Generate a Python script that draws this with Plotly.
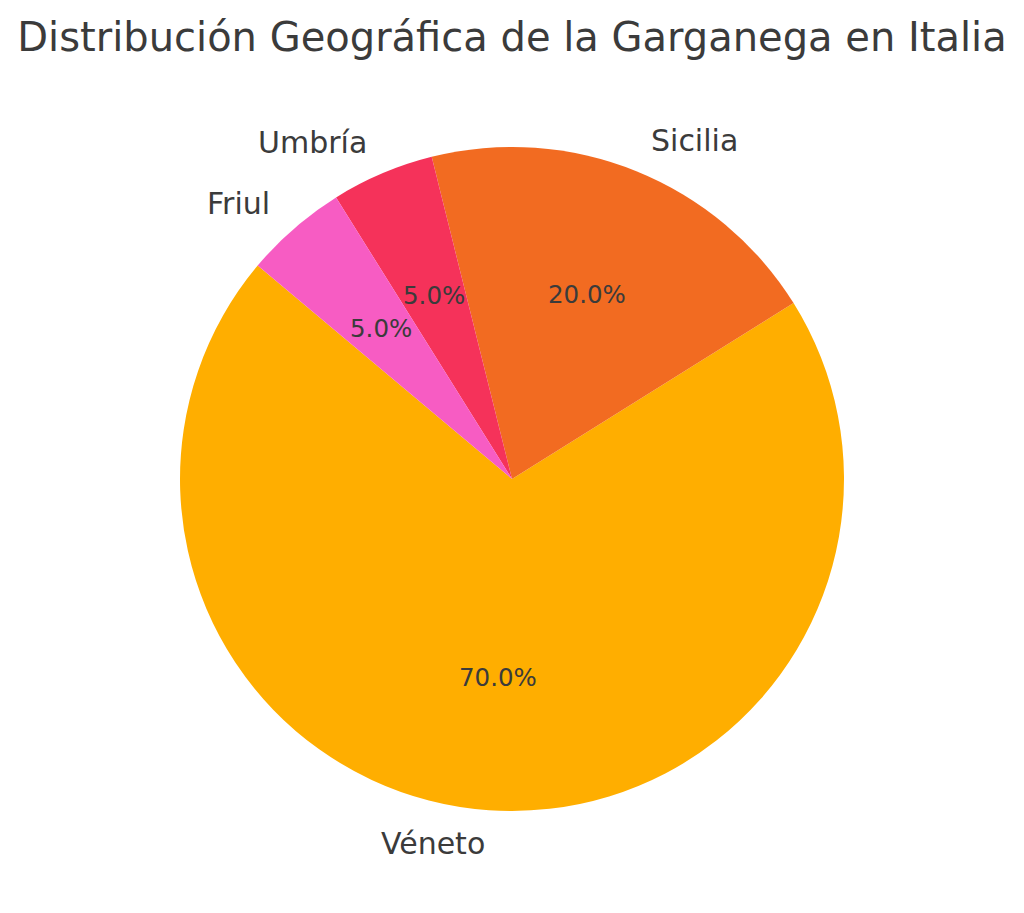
import numpy as np
import plotly.graph_objects as go

# Data
regiones = ['Véneto', 'Sicilia', 'Umbría', 'Friul']
porcentajes = [70, 20, 5, 5]
colores = ['#FFAE00', '#F26B21', '#F5325A', '#F75CC3']

start_angle = 140          # degrees, counterclockwise from 3 o'clock
text_color = '#3b3b3b'

# the page body has an 8px margin, so shrink the figure to fit the window
off = 8
W, H = 1024 - off, 913 - off
cx, cy, R = 512 - off, 479 - off, 332   # pie centre and radius in pixels

total = sum(porcentajes)

# plotly (counterclockwise): rotation is where the first slice ends,
# measured clockwise from 12 o'clock
rotacion = (90 - start_angle) - 360 * porcentajes[0] / total
rotacion = (rotacion + 360) % 360

fig = go.Figure()

# Pie itself (text handled via annotations, like matplotlib labels/autopct)
fig.add_trace(go.Pie(
    labels=regiones,
    values=porcentajes,
    marker=dict(colors=colores, line=dict(width=0)),
    sort=False,
    direction='counterclockwise',
    rotation=rotacion,
    textinfo='none',
    hoverinfo='label+percent',
    showlegend=False,
    domain=dict(x=[(cx - R) / W, (cx + R) / W],
                y=[1 - (cy + R) / H, 1 - (cy - R) / H]),
))

# Label and percentage positions derived from slice mid angles
cum = start_angle
for reg, val in zip(regiones, porcentajes):
    span = 360 * val / total
    mid = np.deg2rad(cum + span / 2)
    cum += span
    ux, uy = np.cos(mid), np.sin(mid)

    # outer label at 1.1 R
    fig.add_annotation(
        x=(cx + 1.1 * R * ux) / W, y=1 - (cy - 1.1 * R * uy) / H,
        xref='paper', yref='paper', text=reg, showarrow=False,
        xanchor='left' if ux > 0 else 'right', yanchor='middle',
        font=dict(size=30, color=text_color, family='DejaVu Sans'),
    )
    # percentage at 0.6 R
    fig.add_annotation(
        x=(cx + 0.6 * R * ux) / W, y=1 - (cy - 0.6 * R * uy) / H,
        xref='paper', yref='paper', text=f'{100 * val / total:.1f}%',
        showarrow=False, xanchor='center', yanchor='middle',
        font=dict(size=24.5, color=text_color, family='DejaVu Sans'),
    )

fig.update_layout(
    width=W, height=H,
    margin=dict(l=0, r=0, t=0, b=0),
    paper_bgcolor='white',
    plot_bgcolor='white',
    title=dict(text='Distribución Geográfica de la Garganega en Italia',
               x=cx / W, xanchor='center', y=1 - 29 / H, yanchor='middle',
               font=dict(size=40, color=text_color, family='DejaVu Sans')),
)

fig.write_html("out.html")
